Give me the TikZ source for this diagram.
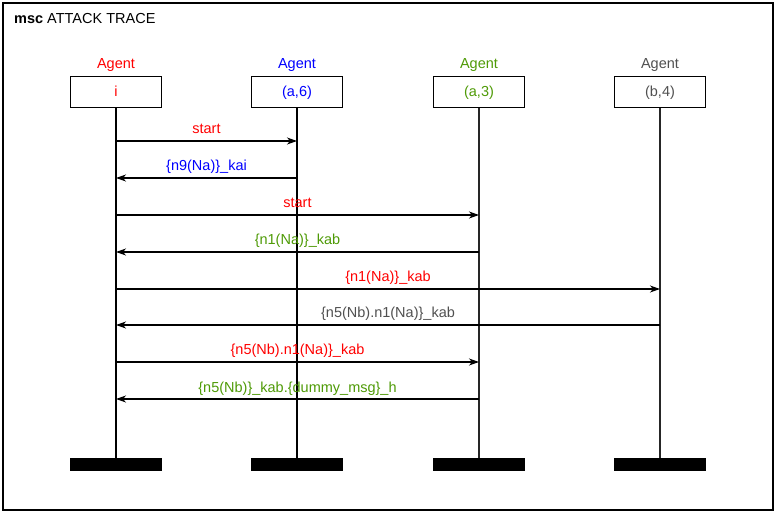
\documentclass[tikz,border=0pt]{standalone}
\usepackage{fontspec}
\setmainfont{Liberation Sans}
\usetikzlibrary{arrows.meta}
\definecolor{agred}{HTML}{FF0000}
\definecolor{agblue}{HTML}{0000FF}
\definecolor{aggreen}{HTML}{4E9A06}
\definecolor{aggrey}{HTML}{505050}
\begin{document}
\begin{tikzpicture}[x=1pt,y=-1pt,font=\fontsize{14.5}{16}\selectfont,
  head/.style={draw,line width=1.1pt,minimum width=91pt,minimum height=31pt,inner sep=0pt,text height=10pt,text depth=1pt},
  bar/.style={fill=black,minimum width=92pt,minimum height=12.5pt,inner sep=0pt},
  msg/.style={line width=1.1pt,-{Stealth[length=10pt,width=7pt,inset=3pt]}},
  lab/.style={midway,anchor=base,yshift=7pt,inner sep=0pt}]
\useasboundingbox (0,0) rectangle (777,513);
\draw[line width=1.3pt] (3,3) rectangle (773,510);
\node[anchor=west,inner sep=0pt] (title) at (14,19) {\textbf{msc} ATTACK TRACE};

\node[anchor=base,agred] (li) at (116,69) {Agent};
\node[anchor=base,agblue] (la6) at (297,69) {Agent};
\node[anchor=base,aggreen] (la3) at (479,69) {Agent};
\node[anchor=base,aggrey] (lb4) at (660,69) {Agent};

\node[head,text=agred] (i) at (116,91.7) {i};
\node[head,text=agblue] (a6) at (297,91.7) {(a,6)};
\node[head,text=aggreen] (a3) at (479,91.7) {(a,3)};
\node[head,text=aggrey] (b4) at (660,91.7) {(b,4)};

\node[bar] (ei) at (116,464.5) {};
\node[bar] (ea6) at (297,464.5) {};
\node[bar] (ea3) at (479,464.5) {};
\node[bar] (eb4) at (660,464.5) {};

\draw[line width=1.3pt] (i) -- (ei);
\draw[line width=1.3pt] (a6) -- (ea6);
\draw[line width=1.3pt,black!85] (a3) -- (ea3);
\draw[line width=1.3pt,black!85] (b4) -- (eb4);

\draw[msg] (i |- 0,141) -- (a6 |- 0,141) node[lab,agred] {start};
\draw[msg] (a6 |- 0,178) -- (i |- 0,178) node[lab,agblue] {\{n9(Na)\}\_kai};
\draw[msg] (i |- 0,215) -- (a3 |- 0,215) node[lab,agred] {start};
\draw[msg] (a3 |- 0,252) -- (i |- 0,252) node[lab,aggreen] {\{n1(Na)\}\_kab};
\draw[msg] (i |- 0,289) -- (b4 |- 0,289) node[lab,agred] {\{n1(Na)\}\_kab};
\draw[msg] (b4 |- 0,325) -- (i |- 0,325) node[lab,aggrey] {\{n5(Nb).n1(Na)\}\_kab};
\draw[msg] (i |- 0,362) -- (a3 |- 0,362) node[lab,agred] {\{n5(Nb).n1(Na)\}\_kab};
\draw[msg] (a3 |- 0,399) -- (i |- 0,399) node[lab,aggreen] {\{n5(Nb)\}\_kab.\{dummy\_msg\}\_h};
\end{tikzpicture}
\end{document}
